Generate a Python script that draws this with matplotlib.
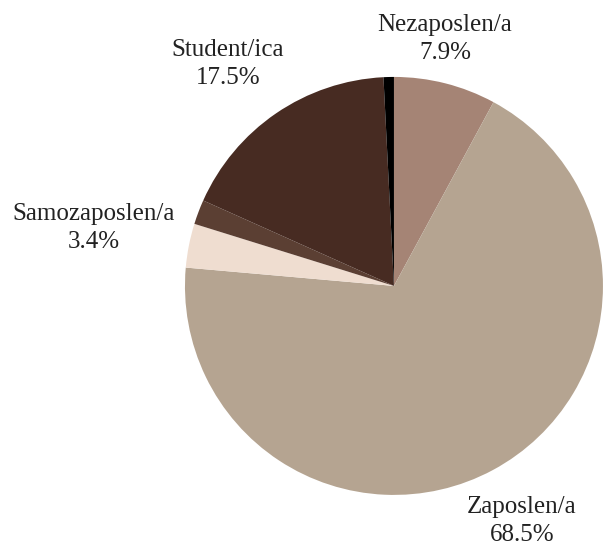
import matplotlib.pyplot as plt

labels = ["Nezaposlen/a", "Zaposlen/a", "Samozaposlen/a", "", "Student/ica", ""]
values = [7.9, 68.5, 3.4, 1.9, 17.5, 0.8]
colors = ["#A58475", "#B5A491", "#EFDDD0", "#5B3F33", "#472B22", "#000000"]
label_pos = [(0.244, 1.182), (0.612, -1.124), (-1.435, 0.278), None, (-0.794, 1.062), None]

plt.rcParams['font.family'] = ['Liberation Serif', 'DejaVu Serif']

fig = plt.figure(figsize=(6.04, 5.52), dpi=100)
ax = fig.add_axes([0, 0, 1, 1])
ax.pie(values, colors=colors, startangle=90, counterclock=False, radius=1.0)
ax.set_xlim(-1.885, 1.005)
ax.set_ylim(-1.273, 1.368)
ax.set_aspect('equal')
ax.axis('off')

for lab, v, pos in zip(labels, values, label_pos):
    if pos is None:
        continue
    ax.text(pos[0], pos[1], f"{lab}\n{v:.1f}%", ha='center', va='center',
            fontsize=18, color='#222222', linespacing=1.35)

fig.savefig("out.png", dpi=100)
